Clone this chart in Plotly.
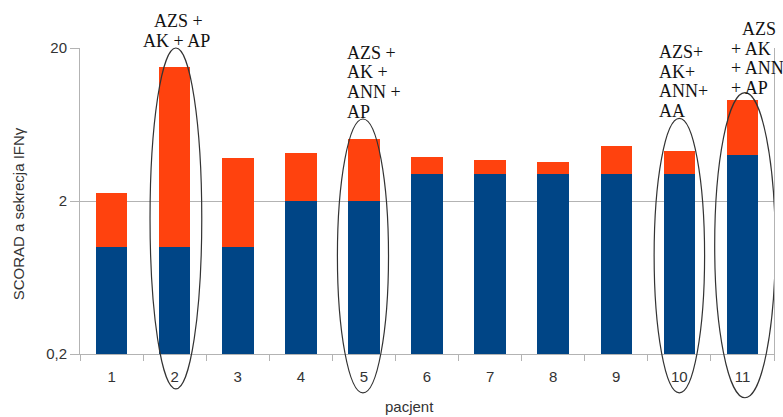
import plotly.graph_objects as go

# Patients and the two stacked components (log-scale y axis)
patients = ["1", "2", "3", "4", "5", "6", "7", "8", "9", "10", "11"]
scorad = [1.0, 1.0, 1.0, 2.0, 2.0, 3.0, 3.0, 3.0, 3.0, 3.0, 4.0]
ifn = [1.25, 14.0, 2.8, 2.1, 3.1, 0.85, 0.7, 0.6, 1.6, 1.25, 5.2]

y_tickvals = [0.2, 2, 20]
y_ticktext = ["0,2", "2", "20"]

BLUE = "#004586"
ORANGE = "#ff420e"
GRID = "#b3b3b3"
TXT = "#333333"

fig = go.Figure()
fig.add_trace(go.Bar(x=patients, y=scorad, marker=dict(color=BLUE, line=dict(width=0)),
                     width=0.5, showlegend=False))
fig.add_trace(go.Bar(x=patients, y=ifn, marker=dict(color=ORANGE, line=dict(width=0)),
                     width=0.5, showlegend=False))

# Groups of comorbidities, one text line per annotation: (x index, paper y, text, anchor)
notes = [
    (1.066, 1.087, "AZS +", "center"),
    (1.025, 1.022, "AK + AP", "center"),
    (3.70, 0.984, "AZS +", "left"),
    (3.70, 0.920, "AK +", "left"),
    (3.70, 0.856, "ANN +", "left"),
    (3.70, 0.792, "AP", "left"),
    (8.64, 0.986, "AZS+", "left"),
    (8.64, 0.922, "AK+", "left"),
    (8.64, 0.858, "ANN+", "left"),
    (8.64, 0.794, "AA", "left"),
    (9.96, 1.063, "AZS", "left"),
    (9.78, 0.998, "+ AK", "left"),
    (9.78, 0.935, "+ ANN", "left"),
    (9.78, 0.869, "+ AP", "left"),
]
annotations = []
for x, y, t, anc in notes:
    annotations.append(dict(x=x, y=y, xref="x", yref="paper", text=t, showarrow=False,
                            xanchor=anc, yanchor="middle",
                            font=dict(family="Liberation Serif", size=18, color="#111111")))

annotations.append(dict(x=-0.089, y=0.4575, xref="paper", yref="paper",
                        text="SCORAD a sekrecja IFNγ", textangle=-90, showarrow=False,
                        xanchor="center", yanchor="middle",
                        font=dict(family="Liberation Sans", size=15, color=TXT)))
annotations.append(dict(x=0.4755, y=-0.173, xref="paper", yref="paper",
                        text="pacjent", showarrow=False, xanchor="center", yanchor="middle",
                        font=dict(family="Liberation Sans", size=15, color=TXT)))

# Ellipses marking the highlighted patients
ellipses = [
    (0.61, 1.43, -0.114, 1.0),
    (3.58, 4.39, -0.127, 0.768),
    (8.60, 9.40, -0.127, 0.770),
    (9.56, 10.52, -0.143, 0.854),
]
shapes = [dict(type="circle", xref="x", yref="paper", x0=a, x1=b, y0=c, y1=d,
               line=dict(color="#333333", width=1.2), fillcolor="rgba(0,0,0,0)")
          for a, b, c, d in ellipses]

fig.update_layout(
    barmode="stack",
    width=783, height=417,
    margin=dict(l=80, r=9, t=48, b=63),
    paper_bgcolor="white", plot_bgcolor="white",
    annotations=annotations,
    shapes=shapes,
    font=dict(family="Liberation Sans", size=15, color=TXT),
    xaxis=dict(type="category", range=[-0.5, 10.5], ticks="outside", tickson="boundaries",
               ticklen=6, tickcolor=GRID, showline=True, linecolor=GRID, linewidth=1,
               showgrid=False, ticklabelstandoff=9, tickfont=dict(size=15, color=TXT)),
    yaxis=dict(type="log", range=[-0.69897, 1.30103], tickvals=y_tickvals, ticktext=y_ticktext,
               ticks="outside", ticklen=9, tickcolor=GRID, showline=True, mirror=True,
               linecolor=GRID, linewidth=1, showgrid=True, gridcolor=GRID, gridwidth=1,
               zeroline=False, tickfont=dict(size=15, color=TXT)),
)

fig.write_html("out.html")
